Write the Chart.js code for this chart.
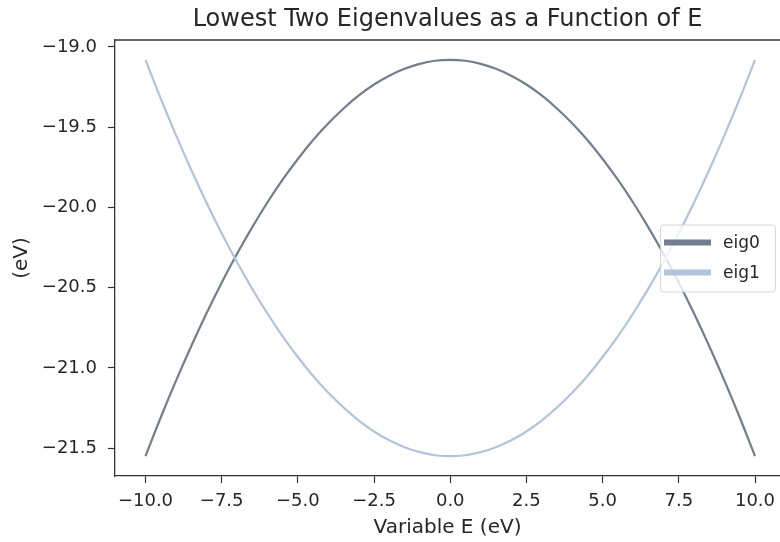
<!DOCTYPE html>
<html lang="en">
  <head>
    <meta charset="UTF-8" />
    <title>Lowest Two Eigenvalues</title>
    <script src="https://cdn.jsdelivr.net/npm/chart.js@4.4.0/dist/chart.umd.min.js"></script>
    <style>
      html,
      body {
        margin: 0;
        padding: 0;
        background: #fff;
        overflow: hidden;
      }
      #eigChart {
        display: block;
      }
    </style>
  </head>
  <body>
    <canvas id="eigChart" width="780" height="542"></canvas>
    <script>
      // field strength E (eV)
      const energies = [
        -10, -9.5, -9, -8.5, -8, -7.5, -7, -6.5, -6, -5.5, -5, -4.5, -4, -3.5, -3, -2.5, -2, -1.5, -1, -0.5, 0,
        0.5, 1, 1.5, 2, 2.5, 3, 3.5, 4, 4.5, 5, 5.5, 6, 6.5, 7, 7.5, 8, 8.5, 9, 9.5, 10,
      ];
      // lowest two eigenvalues (eV)
      const eig0 = [
        -21.55, -21.309, -21.081, -20.865, -20.661, -20.469, -20.29, -20.124, -19.969, -19.827, -19.698,
        -19.58, -19.475, -19.383, -19.302, -19.234, -19.179, -19.136, -19.105, -19.086, -19.08,
        -19.086, -19.105, -19.136, -19.179, -19.234, -19.302, -19.383, -19.475, -19.58,
        -19.698, -19.827, -19.969, -20.124, -20.29, -20.469, -20.661, -20.865, -21.081, -21.309, -21.55,
      ];
      const eig1 = [
        -19.08, -19.321, -19.549, -19.765, -19.969, -20.161, -20.34, -20.506, -20.661, -20.803, -20.932,
        -21.05, -21.155, -21.247, -21.328, -21.396, -21.451, -21.494, -21.525, -21.544, -21.55,
        -21.544, -21.525, -21.494, -21.451, -21.396, -21.328, -21.247, -21.155, -21.05,
        -20.932, -20.803, -20.661, -20.506, -20.34, -20.161, -19.969, -19.765, -19.549, -19.321, -19.08,
      ];
      const xTicks = [-10, -7.5, -5, -2.5, 0, 2.5, 5, 7.5, 10];
      const yTicks = [-21.5, -21.0, -20.5, -20.0, -19.5, -19.0];

      const FONT = "'DejaVu Sans', sans-serif";
      const TEXT = "#262626";
      const SPINE = "#333";

      function pts(ys) {
        return energies.map(function (x, i) {
          return { x: x, y: ys[i] };
        });
      }
      function fmt(v) {
        return (v < 0 ? "\u2212" : "") + Math.abs(v).toFixed(1);
      }

      // top spine (the right one falls just outside the canvas)
      const frame = {
        id: "frame",
        afterDraw(chart) {
          const { ctx, chartArea: a } = chart;
          ctx.save();
          ctx.strokeStyle = SPINE;
          ctx.lineWidth = 1.3;
          ctx.beginPath();
          ctx.moveTo(a.left, a.top);
          ctx.lineTo(a.right, a.top);
          ctx.stroke();
          ctx.restore();
        },
      };

      // legend box sitting inside the plot, centre right
      const legendBox = {
        id: "legendBox",
        afterDatasetsDraw(chart) {
          const { ctx, chartArea: a } = chart;
          const w = 115,
            h = 67;
          const x = 660;
          const y = (a.top + a.bottom) / 2 - h / 2;
          ctx.save();
          ctx.fillStyle = "rgba(255,255,255,0.8)";
          ctx.strokeStyle = "rgba(204,204,204,0.8)";
          ctx.lineWidth = 1;
          ctx.beginPath();
          ctx.roundRect(x + 0.5, y + 0.5, w, h, 3);
          ctx.fill();
          ctx.stroke();
          ctx.font = "17px " + FONT;
          ctx.textBaseline = "middle";
          chart.data.datasets.forEach(function (ds, i) {
            const ly = y + 18 + i * 30;
            ctx.strokeStyle = ds.borderColor;
            ctx.lineWidth = 6;
            ctx.beginPath();
            ctx.moveTo(x + 4, ly);
            ctx.lineTo(x + 51, ly);
            ctx.stroke();
            ctx.fillStyle = TEXT;
            ctx.fillText(ds.label, x + 63, ly + 1);
          });
          ctx.restore();
        },
      };

      const ctx = document.querySelector("#eigChart").getContext("2d");
      const myChart = new Chart(ctx, {
        type: "line",
        data: {
          datasets: [
            {
              label: "eig0",
              data: pts(eig0),
              borderColor: "#6f7f8f",
              borderWidth: 2.2,
              pointRadius: 0,
              tension: 0.4,
              order: 1,
            },
            {
              label: "eig1",
              data: pts(eig1),
              borderColor: "#b0c4de",
              borderWidth: 2.2,
              pointRadius: 0,
              tension: 0.4,
              order: 0,
            },
          ],
        },
        options: {
          responsive: false,
          animation: false,
          devicePixelRatio: 1,
          layout: { padding: 0 },
          plugins: {
            legend: { display: false },
            tooltip: { enabled: false },
            title: {
              display: true,
              fullSize: false,
              text: "Lowest Two Eigenvalues as a Function of E",
              color: TEXT,
              font: { family: FONT, size: 24, weight: "normal", lineHeight: 1.2 },
              padding: { top: 5, bottom: 6.2 },
            },
          },
          scales: {
            x: {
              type: "linear",
              min: -11,
              max: 10.82,
              afterBuildTicks: function (scale) {
                scale.ticks = xTicks.map(function (v) {
                  return { value: v };
                });
              },
              afterFit: function (scale) {
                scale.height = 66;
                scale.paddingLeft = 0;
                scale.paddingRight = 0;
              },
              ticks: {
                color: TEXT,
                padding: 8,
                maxRotation: 0,
                font: { family: FONT, size: 18 },
                callback: fmt,
              },
              grid: { drawOnChartArea: false, drawTicks: true, tickLength: 7, tickColor: SPINE, tickWidth: 1.2 },
              border: { display: true, color: SPINE, width: 1.3 },
              title: {
                display: true,
                text: "Variable E (eV)",
                color: TEXT,
                font: { family: FONT, size: 20, lineHeight: 1.2 },
                padding: { top: 0, bottom: 2 },
              },
            },
            y: {
              type: "linear",
              min: -21.6735,
              max: -18.9565,
              afterBuildTicks: function (scale) {
                scale.ticks = yTicks.map(function (v) {
                  return { value: v };
                });
              },
              afterFit: function (scale) {
                scale.width = 115;
                scale.paddingTop = 0;
                scale.paddingBottom = 0;
              },
              ticks: {
                color: TEXT,
                padding: 11,
                font: { family: FONT, size: 18 },
                callback: fmt,
              },
              grid: { drawOnChartArea: false, drawTicks: true, tickLength: 7, tickColor: SPINE, tickWidth: 1.2 },
              border: { display: true, color: SPINE, width: 1.3 },
              title: {
                display: true,
                text: "(eV)",
                color: TEXT,
                font: { family: FONT, size: 20, lineHeight: 1.2 },
                padding: { top: 10, bottom: 0 },
              },
            },
          },
        },
        plugins: [frame, legendBox],
      });
    </script>
  </body>
</html>
